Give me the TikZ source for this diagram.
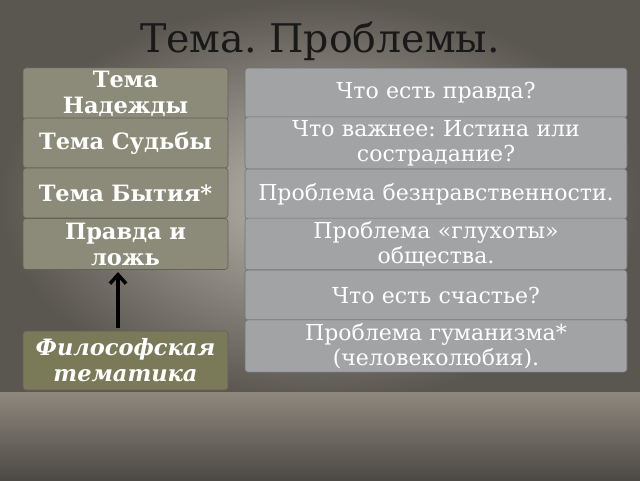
\documentclass[tikz,border=0pt]{standalone}
\usepackage{fontspec}
\setmainfont{DejaVu Serif}
\usepackage{xcolor}
\usetikzlibrary{arrows.meta}
\frenchspacing
\definecolor{wallgray}{HTML}{ADA79C}
\definecolor{walldark}{HTML}{5A5650}
\definecolor{floorgray}{HTML}{8E887E}
\definecolor{themebox}{HTML}{8C8A78}
\definecolor{problembox}{HTML}{A2A3A5}
\definecolor{philobox}{HTML}{7A7958}
\tikzset{ theme_box/.style = {rectangle, rounded corners=3pt, fill=themebox, draw=themebox!70!black, line width=0.6pt, minimum width=205pt, text width=201pt, inner xsep=2pt, align=center, text=white, font=\fontsize{22.5}{26}\selectfont\bfseries} }
\tikzset{ problem_box/.style = {rectangle, rounded corners=3pt, fill=problembox, draw=problembox!70!black, line width=0.6pt, minimum width=382pt, minimum height=50pt, text width=376pt, inner xsep=2pt, align=center, text=white, font=\fontsize{22}{25}\selectfont} }
\begin{document}
\begin{tikzpicture}[x=1pt,y=-1pt]
            \useasboundingbox (0,0) rectangle (640,480);
            % background
            \shade[inner color=wallgray!80!white, outer color=walldark] (0,0) rectangle (640,400);
            \shade[top color=floorgray, bottom color=walldark!85!black] (0,392) rectangle (640,480);
            \node [font=\fontsize{39.5}{44}\selectfont, text=black!90] (title) at (320,41) {Тема. Проблемы.};
            % themes
            \node [style=theme_box, minimum height=48pt] (hope) at (125.5,94) {Тема\\Надежды};
            \node [style=theme_box, minimum height=50pt] (fate) at (125.5,143) {Тема Судьбы};
            \node [style=theme_box, minimum height=50pt] (being) at (125.5,193) {Тема Бытия*};
            \node [style=theme_box, minimum height=51pt] (truth) at (125.5,244) {Правда и\\ложь};
            \node [style=theme_box, fill=philobox, minimum height=59pt, font=\fontsize{22.5}{26}\selectfont\bfseries\itshape] (philo) at (125.5,360.5) {Философская\\тематика};
            % problems
            \node [style=problem_box] (p1) at (436,93) {Что есть правда?};
            \node [style=problem_box] (p2) at (436,143) {Что важнее: Истина или\\сострадание?};
            \node [style=problem_box] (p3) at (436,194) {Проблема безнравственности.};
            \node [style=problem_box] (p4) at (436,244) {Проблема «глухоты»\\общества.};
            \node [style=problem_box] (p5) at (436,295) {Что есть счастье?};
            \node [style=problem_box, minimum height=52pt] (p6) at (436,346) {Проблема гуманизма*\\(человеколюбия).};
            % arrow
            \coordinate (arrow_from) at (118,328);
            \coordinate (arrow_to) at (118,272);
            \draw[line width=3.5pt, -{Straight Barb[length=9pt,width=16pt]}] (arrow_from) to (arrow_to);
       \end{tikzpicture}
\end{document}
